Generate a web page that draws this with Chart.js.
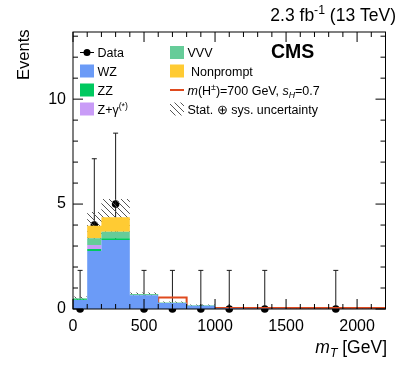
<!DOCTYPE html>
<html>
<head>
<meta charset="utf-8">
<script src="https://cdn.jsdelivr.net/npm/chart.js@4.4.0/dist/chart.umd.min.js"></script>
<style>
  html, body { margin: 0; padding: 0; background: #fff; }
  #chartCanvas { display: block; }
</style>
</head>
<body>
<canvas id="chartCanvas" width="407" height="387"></canvas>
<script>
// histogram binning (GeV)
const binEdges = [0, 100, 200, 400, 600, 800, 1000, 1200, 1500, 2200];

// stacked backgrounds, events per bin
const wzEvents        = [0.43, 2.76, 3.29, 0.65, 0.28, 0.16, 0.03, 0.02, 0.01];
const zzEvents        = [0.04, 0.10, 0.08, 0.01, 0.01, 0.01, 0.00, 0.00, 0.00];
const zgEvents        = [0.00, 0.19, 0.00, 0.00, 0.00, 0.00, 0.00, 0.00, 0.00];
const vvvEvents       = [0.04, 0.32, 0.31, 0.05, 0.02, 0.01, 0.00, 0.00, 0.00];
const nonpromptEvents = [0.00, 0.60, 0.69, 0.00, 0.00, 0.00, 0.00, 0.00, 0.00];
const bkgUncertainty  = [0.08, 0.65, 0.87, 0.08, 0.05, 0.03, 0.01, 0.01, 0.01];

// signal m(H+-)=700 GeV, not stacked
const signalEvents    = [0.06, 0.06, 0.06, 0.27, 0.55, 0.05, 0.05, 0.05, 0.05];

// data points with Poisson intervals
const dataX    = [50, 150, 300, 500, 700, 900, 1100, 1350, 1850];
const dataY    = [0, 4, 5, 0, 0, 0, 0, 0, 0];
const dataLow  = [0, 2.09, 2.84, 0, 0, 0, 0, 0, 0];
const dataHigh = [1.84, 7.16, 8.38, 1.84, 1.84, 1.84, 1.84, 1.84, 1.84];

const xTicks = [0, 500, 1000, 1500, 2000];
const yTicks = [0, 5, 10];

const colors = {
    wz: '#6b9bf7',
    zz: '#00c95f',
    zg: '#c99cf7',
    vvv: '#66cc99',
    nonprompt: '#ffcb33',
    signal: '#df4a1e'
};

const FONT = '"Liberation Sans", Arial, Helvetica, sans-serif';

// hatch pattern for the uncertainty band
function makeHatch() {
    const s = 6;
    const c = document.createElement('canvas');
    c.width = s; c.height = s;
    const g = c.getContext('2d');
    g.strokeStyle = '#555';
    g.lineWidth = 1;
    g.beginPath();
    g.moveTo(0, 0); g.lineTo(s, s);
    g.moveTo(-1, s - 1); g.lineTo(1, s + 1);
    g.moveTo(s - 1, -1); g.lineTo(s + 1, 1);
    g.stroke();
    return g.createPattern(c, 'repeat');
}
const hatch = makeHatch();

function cumulative(...arrays) {
    return arrays[0].map((_, i) => arrays.reduce((s, a) => s + a[i], 0));
}

function steps(values) {
    const pts = values.map((v, i) => ({ x: binEdges[i], y: v }));
    pts.push({ x: binEdges[binEdges.length - 1], y: values[values.length - 1] });
    return pts;
}

const stack1 = wzEvents;
const stack2 = cumulative(wzEvents, zzEvents);
const stack3 = cumulative(wzEvents, zzEvents, zgEvents);
const stack4 = cumulative(wzEvents, zzEvents, zgEvents, vvvEvents);
const stack5 = cumulative(wzEvents, zzEvents, zgEvents, vvvEvents, nonpromptEvents);
const bandLow = stack5.map((v, i) => Math.max(0, v - bkgUncertainty[i]));
const bandHigh = stack5.map((v, i) => v + bkgUncertainty[i]);

function histSet(label, values, color, fill) {
    return {
        type: 'line', label: label, data: steps(values), stepped: true,
        borderWidth: 0, borderColor: color, backgroundColor: color,
        fill: fill, pointRadius: 0
    };
}

const errorPoints = [];
const capRadius = [];
dataX.forEach((x, i) => {
    errorPoints.push({ x: x, y: dataLow[i] });
    capRadius.push(dataLow[i] > 0 ? 2.5 : 0);
    errorPoints.push({ x: x, y: dataHigh[i] });
    capRadius.push(2.5);
    errorPoints.push({ x: x, y: null });
    capRadius.push(0);
});

const datasets = [
    histSet('WZ', stack1, colors.wz, 'origin'),
    histSet('ZZ', stack2, colors.zz, '-1'),
    histSet('Zg', stack3, colors.zg, '-1'),
    histSet('VVV', stack4, colors.vvv, '-1'),
    histSet('Nonprompt', stack5, colors.nonprompt, '-1'),
    histSet('bandLow', bandLow, 'rgba(0,0,0,0)', false),
    {
        type: 'line', label: 'band', data: steps(bandHigh), stepped: true,
        borderWidth: 0, borderColor: 'rgba(0,0,0,0)', backgroundColor: hatch,
        fill: '-1', pointRadius: 0
    },
    {
        type: 'line', label: 'signal', data: steps(signalEvents), stepped: true,
        borderWidth: 2, borderColor: colors.signal, fill: false, pointRadius: 0
    },
    {
        type: 'line', label: 'errors', data: errorPoints, spanGaps: false,
        borderWidth: 1, borderColor: '#1a1a1a', fill: false,
        pointStyle: 'line', pointRadius: capRadius, pointBorderWidth: 1,
        pointBorderColor: '#1a1a1a', clip: false
    },
    {
        type: 'line', label: 'Data', data: dataX.map((x, i) => ({ x: x, y: dataY[i] })),
        showLine: false, pointRadius: 3.8, pointBackgroundColor: '#000',
        pointBorderColor: '#000', pointBorderWidth: 0, clip: false
    }
];

// frame with inside ticks on all four sides
const framePlugin = {
    id: 'frame',
    afterDatasetsDraw(chart) {
        const ctx = chart.ctx;
        const a = chart.chartArea;
        const xs = chart.scales.x, ys = chart.scales.y;
        ctx.save();
        ctx.strokeStyle = '#000';
        ctx.lineWidth = 1;
        ctx.strokeRect(a.left, a.top, a.right - a.left, a.bottom - a.top);
        ctx.beginPath();
        for (let v = 0; v <= 2200; v += 100) {
            const px = xs.getPixelForValue(v);
            const len = v % 500 === 0 ? 10 : 5;
            ctx.moveTo(px, a.bottom); ctx.lineTo(px, a.bottom - len);
            ctx.moveTo(px, a.top); ctx.lineTo(px, a.top + len);
        }
        for (let v = 0; v <= 13; v += 1) {
            const py = ys.getPixelForValue(v);
            const len = v % 5 === 0 ? 10 : 5;
            ctx.moveTo(a.left, py); ctx.lineTo(a.left + len, py);
            ctx.moveTo(a.right, py); ctx.lineTo(a.right - len, py);
        }
        ctx.stroke();
        ctx.restore();
    }
};

// draw a run of text pieces: [text, style, position]
function richText(ctx, x, y, parts, size, align) {
    const measure = p => {
        const s = p[2] ? size * 0.7 : size;
        ctx.font = (p[1] === 'i' ? 'italic ' : '') + s + 'px ' + FONT;
        return ctx.measureText(p[0]).width;
    };
    let total = parts.reduce((w, p) => w + measure(p), 0);
    let cx = align === 'right' ? x - total : x;
    parts.forEach(p => {
        const w = measure(p);
        let dy = 0;
        if (p[2] === 'sup') dy = -size * 0.4;
        if (p[2] === 'sub') dy = size * 0.25;
        ctx.fillText(p[0], cx, y + dy);
        cx += w;
    });
}

const legendCol1 = [
    { label: [['Data']], kind: 'data' },
    { label: [['WZ']], kind: 'box', color: colors.wz },
    { label: [['ZZ']], kind: 'box', color: colors.zz },
    { label: [['Z+\u03b3'], ['(*)', '', 'sup']], kind: 'box', color: colors.zg }
];
const legendCol2 = [
    { label: [['VVV']], kind: 'box', color: colors.vvv },
    { label: [[' Nonprompt']], kind: 'box', color: colors.nonprompt },
    { label: [['m', 'i'], ['(H'], ['\u00b1', '', 'sup'], [')=700 GeV, '], ['s', 'i'], ['H', 'i', 'sub'], ['=0.7']], kind: 'line', color: colors.signal },
    { label: [['Stat. \u2295 sys. uncertainty']], kind: 'hatch' }
];

const textPlugin = {
    id: 'texts',
    afterDraw(chart) {
        const ctx = chart.ctx;
        ctx.save();
        ctx.fillStyle = '#000';
        ctx.textBaseline = 'alphabetic';

        // legend
        const rowY = [52.5, 71, 90, 109];
        const drawCol = (items, x0) => {
            items.forEach((it, i) => {
                const cy = rowY[i];
                if (it.kind === 'box') {
                    ctx.fillStyle = it.color;
                    ctx.fillRect(x0, cy - 6.5, 14, 13);
                } else if (it.kind === 'data') {
                    ctx.strokeStyle = '#000';
                    ctx.lineWidth = 1;
                    ctx.beginPath();
                    ctx.moveTo(x0, cy); ctx.lineTo(x0 + 14, cy);
                    ctx.stroke();
                    ctx.fillStyle = '#000';
                    ctx.beginPath();
                    ctx.arc(x0 + 7, cy, 3.5, 0, Math.PI * 2);
                    ctx.fill();
                } else if (it.kind === 'line') {
                    ctx.strokeStyle = it.color;
                    ctx.lineWidth = 2;
                    ctx.beginPath();
                    ctx.moveTo(x0, cy); ctx.lineTo(x0 + 14, cy);
                    ctx.stroke();
                } else if (it.kind === 'hatch') {
                    ctx.fillStyle = hatch;
                    ctx.fillRect(x0, cy - 6.5, 14, 13);
                }
                ctx.fillStyle = '#000';
                ctx.textAlign = 'left';
                richText(ctx, x0 + 17.5, cy + 4.5, it.label, 12.5, 'left');
            });
        };
        drawCol(legendCol1, 80);
        drawCol(legendCol2, 170);

        // CMS label
        ctx.fillStyle = '#000';
        ctx.font = 'bold 19.5px ' + FONT;
        ctx.textAlign = 'left';
        ctx.fillText('CMS', 271, 58);

        // luminosity
        ctx.textAlign = 'left';
        richText(ctx, 396, 21, [['2.3 fb'], ['-1', '', 'sup'], [' (13 TeV)']], 17.5, 'right');

        // axis titles
        richText(ctx, 387, 352.5, [['m', 'i'], ['T', 'i', 'sub'], [' [GeV]']], 17.5, 'right');
        ctx.save();
        ctx.translate(28.5, 29.5);
        ctx.rotate(-Math.PI / 2);
        ctx.font = '16.5px ' + FONT;
        ctx.textAlign = 'right';
        ctx.fillText('Events', 0, 0);
        ctx.restore();

        ctx.restore();
    }
};

new Chart(document.getElementById('chartCanvas').getContext('2d'), {
    type: 'line',
    data: { datasets: datasets },
    options: {
        responsive: false,
        animation: false,
        layout: { padding: { left: 0, right: 21.5, top: 32, bottom: 0 } },
        plugins: {
            legend: { display: false },
            tooltip: { enabled: false }
        },
        scales: {
            x: {
                type: 'linear', min: 0, max: 2200,
                grid: { display: false, drawTicks: false },
                border: { display: false },
                afterFit: s => { s.height = 78; },
                afterBuildTicks: s => { s.ticks = xTicks.map(v => ({ value: v })); },
                ticks: {
                    autoSkip: false, maxRotation: 0, padding: 8, color: '#000',
                    font: { family: FONT, size: 16 },
                    callback: v => String(v)
                }
            },
            y: {
                type: 'linear', min: 0, max: 13.2,
                grid: { display: false, drawTicks: false },
                border: { display: false },
                afterFit: s => { s.width = 73; },
                afterBuildTicks: s => { s.ticks = yTicks.map(v => ({ value: v })); },
                ticks: {
                    autoSkip: false, padding: 7, color: '#000',
                    font: { family: FONT, size: 16 },
                    callback: v => String(v)
                }
            }
        }
    },
    plugins: [framePlugin, textPlugin]
});
</script>
</body>
</html>
